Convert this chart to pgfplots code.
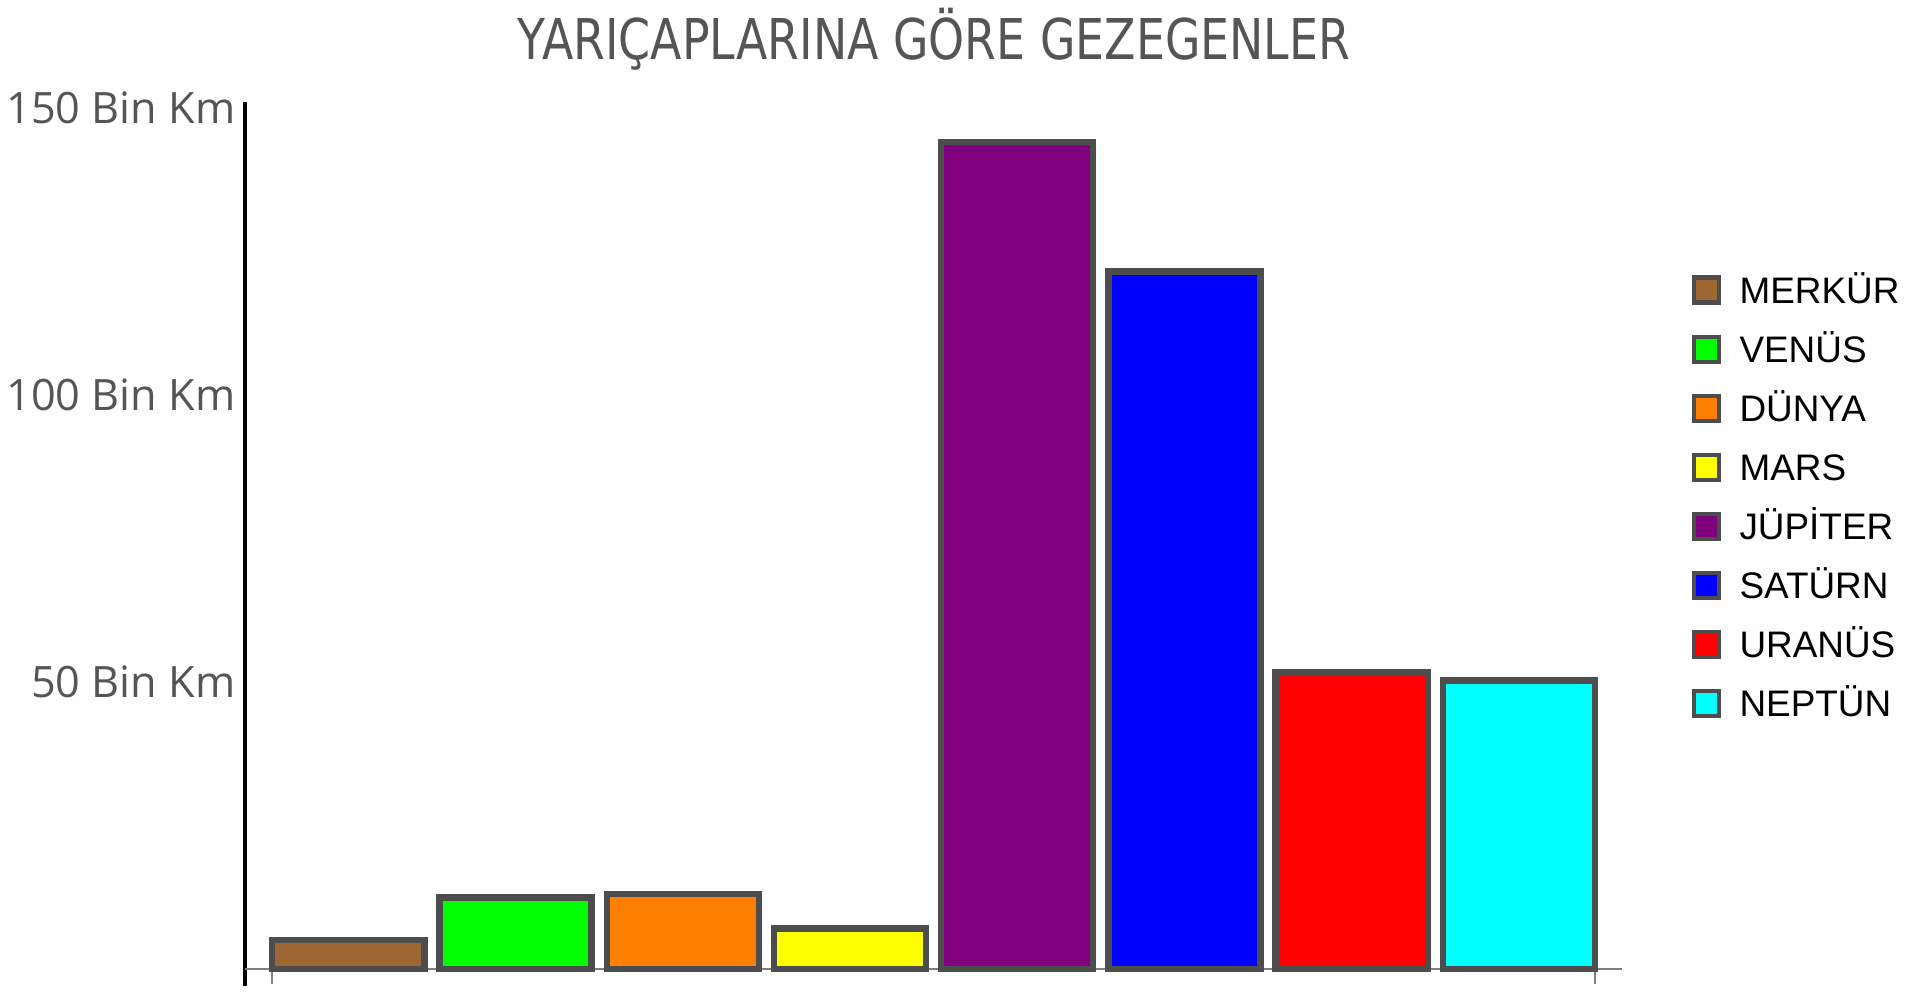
\documentclass[border=0pt]{standalone}
\usepackage{pgfplots}
\pgfplotsset{compat=1.18}
\usepackage{fontspec}
\setmainfont{Liberation Sans}
\newfontfamily\tickfont{Open Sans}
\newfontfamily\titlefont{DejaVu Sans}
\definecolor{merkur}{HTML}{9D6633}
\definecolor{venus}{HTML}{00FF00}
\definecolor{dunya}{HTML}{FF8000}
\definecolor{mars}{HTML}{FFFF00}
\definecolor{jupiter}{HTML}{800080}
\definecolor{saturn}{HTML}{0000FF}
\definecolor{uranus}{HTML}{FF0000}
\definecolor{neptun}{HTML}{00FFFF}
\definecolor{edge}{HTML}{4D4D4D}
\definecolor{txtgray}{HTML}{555555}
\pgfplotsset{
  mybar/.style={ybar, bar width=0.91, bar shift=0pt, fill=#1, draw=edge, line width=1.8pt,
    legend image code/.code={\draw[fill=#1, draw=edge, line width=1.2pt] (0mm,-1.25mm) rectangle (2.5mm,1.25mm);}},
}
\begin{document}
\begin{tikzpicture}
\useasboundingbox (0,0) rectangle (192mm,99.5mm);
\node[text=txtgray, anchor=center, inner sep=0pt] at (93.4mm,95.6mm) {\titlefont\fontsize{16}{19}\selectfont\scalebox{0.815}[1]{YARIÇAPLARINA GÖRE GEZEGENLER}};
\begin{axis}[
  at={(24.5mm,0.9mm)}, anchor=south west,
  scale only axis, width=137.7mm, height=88.4mm,
  xmin=-0.618, xmax=7.617, ymin=-3, ymax=151,
  axis x line=none, axis y line=left,
  axis line style={-, black, line width=1.4pt},
  ytick={50,100,150},
  yticklabels={50 Bin Km,100 Bin Km,150 Bin Km},
  yticklabel style={font=\tickfont\fontsize{12.3}{15}\selectfont, text=txtgray, inner sep=0pt, xshift=-0.9mm},
  major tick length=0pt,
  clip=false,
  legend style={draw=none, fill=none, at={(1.0425,0.8125)}, anchor=north west,
    font=\fontsize{10.5}{12}\selectfont, row sep=8.5pt,
    nodes={inner sep=0pt, text height=7.5pt, text depth=0pt},
    /tikz/every odd column/.append style={column sep=1.85mm}},
  legend cell align=left,
]
\draw[gray, line width=0.5pt] (axis cs:-0.618,0) -- (axis cs:7.617,0);
\draw[gray, line width=0.5pt] (axis cs:-0.455,0) -- ([yshift=-1.5mm]axis cs:-0.455,0);
\draw[gray, line width=0.5pt] (axis cs:7.455,0) -- ([yshift=-1.5mm]axis cs:7.455,0);
\addplot[mybar=merkur] coordinates {(0,5.0)};
\addlegendentry{MERKÜR}
\addplot[mybar=venus] coordinates {(1,12.4)};
\addlegendentry{VENÜS}
\addplot[mybar=dunya] coordinates {(2,13.0)};
\addlegendentry{DÜNYA}
\addplot[mybar=mars] coordinates {(3,7.0)};
\addlegendentry{MARS}
\addplot[mybar=jupiter] coordinates {(4,144.0)};
\addlegendentry{JÜPİTER}
\addplot[mybar=saturn] coordinates {(5,121.5)};
\addlegendentry{SATÜRN}
\addplot[mybar=uranus] coordinates {(6,51.6)};
\addlegendentry{URANÜS}
\addplot[mybar=neptun] coordinates {(7,50.2)};
\addlegendentry{NEPTÜN}
\end{axis}
\end{tikzpicture}
\end{document}
